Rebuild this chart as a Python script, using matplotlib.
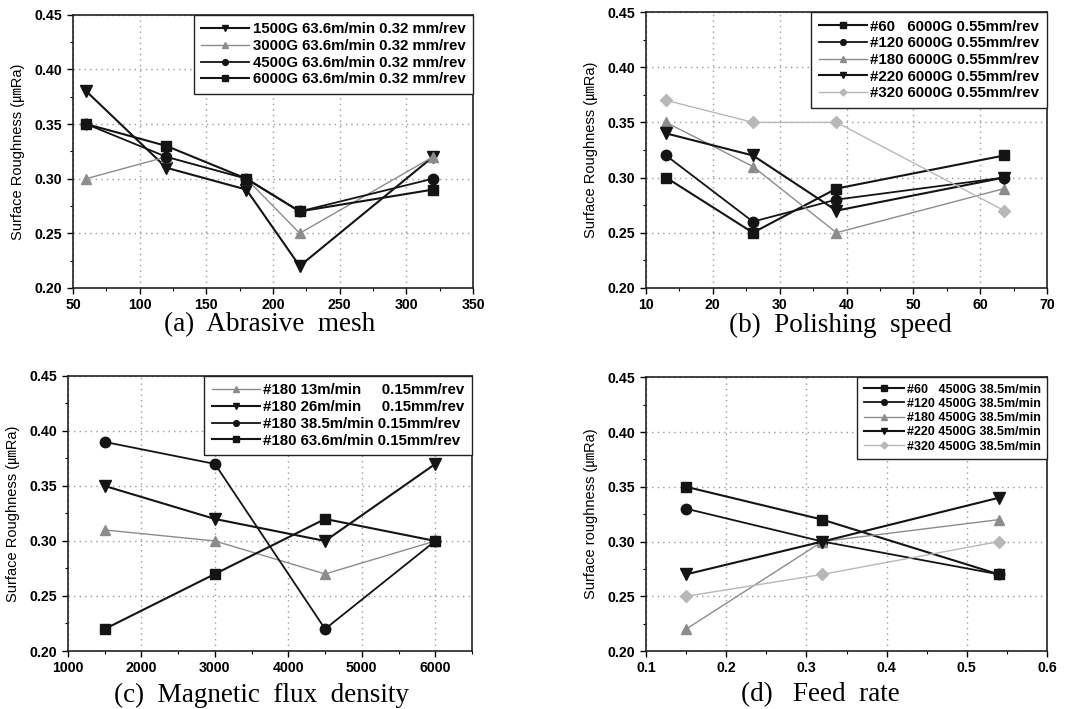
import matplotlib
matplotlib.use("Agg")
import matplotlib.pyplot as plt
from matplotlib.ticker import MultipleLocator

# ---- data ----
mesh_x = [60, 120, 180, 220, 320]
mesh_labels = ["1500G 63.6m/min 0.32 mm/rev", "3000G 63.6m/min 0.32 mm/rev",
               "4500G 63.6m/min 0.32 mm/rev", "6000G 63.6m/min 0.32 mm/rev"]
mesh_1500 = [0.38, 0.31, 0.29, 0.22, 0.32]
mesh_3000 = [0.30, 0.32, 0.30, 0.25, 0.32]
mesh_4500 = [0.35, 0.32, 0.30, 0.27, 0.30]
mesh_6000 = [0.35, 0.33, 0.30, 0.27, 0.29]

speed_x = [13, 26, 38.5, 63.6]
speed_labels = ["#60   6000G 0.55mm/rev", "#120 6000G 0.55mm/rev", "#180 6000G 0.55mm/rev",
                "#220 6000G 0.55mm/rev", "#320 6000G 0.55mm/rev"]
speed_60 = [0.30, 0.25, 0.29, 0.32]
speed_120 = [0.32, 0.26, 0.28, 0.30]
speed_180 = [0.35, 0.31, 0.25, 0.29]
speed_220 = [0.34, 0.32, 0.27, 0.30]
speed_320 = [0.37, 0.35, 0.35, 0.27]

flux_x = [1500, 3000, 4500, 6000]
flux_labels = ["#180 13m/min     0.15mm/rev", "#180 26m/min     0.15mm/rev",
               "#180 38.5m/min 0.15mm/rev", "#180 63.6m/min 0.15mm/rev"]
flux_13 = [0.31, 0.30, 0.27, 0.30]
flux_26 = [0.35, 0.32, 0.30, 0.37]
flux_385 = [0.39, 0.37, 0.22, 0.30]
flux_636 = [0.22, 0.27, 0.32, 0.30]

feed_x = [0.15, 0.32, 0.54]
feed_labels = ["#60   4500G 38.5m/min", "#120 4500G 38.5m/min", "#180 4500G 38.5m/min",
               "#220 4500G 38.5m/min", "#320 4500G 38.5m/min"]
feed_60 = [0.35, 0.32, 0.27]
feed_120 = [0.33, 0.30, 0.27]
feed_180 = [0.22, 0.30, 0.32]
feed_220 = [0.27, 0.30, 0.34]
feed_320 = [0.25, 0.27, 0.30]

captions = ["(a)  Abrasive  mesh", "(b)  Polishing  speed",
            "(c)  Magnetic  flux  density", "(d)   Feed  rate"]

# ---- styles ----
BLK = "#141414"
GRY = "#8c8c8c"
LGT = "#b8b8b8"
sty = {
    "sq": dict(color=BLK, marker="s", lw=1.5, ms=7.5),
    "ci": dict(color=BLK, marker="o", lw=1.3, ms=7.5),
    "up": dict(color=GRY, marker="^", lw=1.0, ms=7.5),
    "dn": dict(color=BLK, marker="v", lw=1.5, ms=8.5),
    "di": dict(color=LGT, marker="D", lw=1.0, ms=6.5),
}
SANS = ["Liberation Sans", "DejaVu Sans"]
LAB = ["Liberation Sans", "Noto Sans CJK KR", "DejaVu Sans"]

fig = plt.figure(figsize=(10.81, 7.09), dpi=100)
fig.patch.set_facecolor("white")

rects = [
    (73 / 1081, 0.594, 400 / 1081, 0.385),
    (646 / 1081, 0.594, 401 / 1081, 0.389),
    (68 / 1081, 0.0818, 404 / 1081, 0.388),
    (646 / 1081, 0.0818, 401 / 1081, 0.386),
]


def setup(ax, xlim, xmaj, xmin, ylabel, leg_fs):
    ax.set_xlim(*xlim)
    ax.set_ylim(0.20, 0.45)
    ax.xaxis.set_major_locator(MultipleLocator(xmaj))
    ax.xaxis.set_minor_locator(MultipleLocator(xmin))
    ax.yaxis.set_major_locator(MultipleLocator(0.05))
    ax.yaxis.set_minor_locator(MultipleLocator(0.025))
    ax.yaxis.set_major_formatter(plt.FormatStrFormatter("%.2f"))
    ax.grid(True, which="major", color="#9a9a9a", ls=(0, (1, 3)), lw=1.0)
    ax.tick_params(which="major", direction="out", length=4, width=1, labelsize=10.2)
    ax.tick_params(which="minor", direction="out", length=2.5, width=0.8)
    for lab in ax.get_xticklabels() + ax.get_yticklabels():
        lab.set_fontweight("bold")
        lab.set_family(SANS)
    for s in ax.spines.values():
        s.set_linewidth(1.2)
        s.set_color("#222222")
    ax.set_ylabel(ylabel, family=LAB, fontsize=10.5, labelpad=7)
    leg = ax.legend(loc="upper right", bbox_to_anchor=(1, 1), borderaxespad=0,
                    fancybox=False, edgecolor="#222222", framealpha=1,
                    prop=dict(family=SANS, weight="bold", size=leg_fs),
                    handlelength=3.2, numpoints=1, markerscale=0.55,
                    labelspacing=0.18, borderpad=0.5, handletextpad=0.25)
    leg.get_frame().set_linewidth(1.0)


axes = [fig.add_axes(r) for r in rects]

# (a)
ax = axes[0]
for ys, k, lab in zip([mesh_1500, mesh_3000, mesh_4500, mesh_6000],
                      ["dn", "up", "ci", "sq"], mesh_labels):
    ax.plot(mesh_x, ys, label=lab, **sty[k])
setup(ax, (50, 350), 50, 25, "Surface Roughness (\u339bRa)", 10.8)

# (b)
ax = axes[1]
for ys, k, lab in zip([speed_60, speed_120, speed_180, speed_220, speed_320],
                      ["sq", "ci", "up", "dn", "di"], speed_labels):
    ax.plot(speed_x, ys, label=lab, **sty[k])
setup(ax, (10, 70), 10, 5, "Surface Roughness (\u339bRa)", 10.8)

# (c)
ax = axes[2]
for ys, k, lab in zip([flux_13, flux_26, flux_385, flux_636],
                      ["up", "dn", "ci", "sq"], flux_labels):
    ax.plot(flux_x, ys, label=lab, **sty[k])
setup(ax, (1000, 6500), 1000, 500, "Surface Roughness (\u339bRa)", 10.8)

# (d)
ax = axes[3]
for ys, k, lab in zip([feed_60, feed_120, feed_180, feed_220, feed_320],
                      ["sq", "ci", "up", "dn", "di"], feed_labels):
    ax.plot(feed_x, ys, label=lab, **sty[k])
setup(ax, (0.1, 0.6), 0.1, 0.05, "Surface roughness (\u339bRa)", 9.0)

# captions
cap_pos = [(270, 325), (840, 325), (262, 695), (820, 695)]
for (cx, cy), txt in zip(cap_pos, captions):
    fig.text(cx / 1081, 1 - cy / 709, txt, ha="center", va="center",
             family=["Liberation Serif", "DejaVu Serif"], fontsize=19.5)

fig.savefig("out.png", dpi=100, facecolor="white")
